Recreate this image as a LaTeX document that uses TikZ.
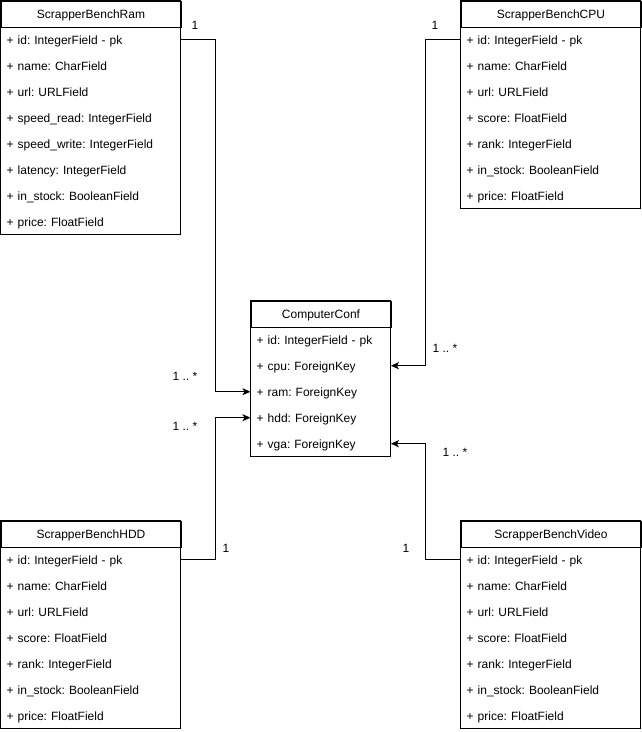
\documentclass[tikz,border=0pt]{standalone}
\usepackage{fontspec}
\setmainfont{Liberation Sans}
\usetikzlibrary{arrows.meta}

% One UML class: header row plus a list of attribute rows, 26 units each.
% #1 node prefix, #2 left x, #3 top y, #4 width, #5 class name, #6 attributes
\newcommand\umlclass[6]{%
  \pgfmathsetmacro\umltw{#4-12}%
  \node[hdrrow, minimum width=#4] (#1) at (#2,#3) {#5};
  \foreach \fld [count=\k] in {#6} {
    \node[fieldrow, text width=\umltw pt] (#1-\k) at (#2,#3+26*\k) {\fld};
    \xdef\umllast{\k}
  }
  \draw[boxline] (#1.north west) rectangle (#1-\umllast.south east);
}

\begin{document}
\frenchspacing
\begin{tikzpicture}[x=1pt,y=-1pt,
  txt/.style={font=\fontsize{12}{14}\selectfont\frenchspacing,
    text height=9pt, text depth=0pt},
  boxline/.style={line width=1pt, draw=black},
  hdrrow/.style={txt, draw=black, line width=1pt, anchor=north west,
    minimum height=26pt, inner sep=0pt},
  fieldrow/.style={txt, anchor=north west, minimum height=26pt, inner ysep=0pt,
    inner xsep=6pt, align=left},
  conn/.style={line width=1pt, draw=black, -{Stealth[length=8pt,width=7pt,inset=2pt]}},
  mult/.style={txt, inner sep=0pt}]

\useasboundingbox (0,0) rectangle (641,732);
\fill[white] (0,0) rectangle (641,732);

\umlclass{ram}{0.5}{0.5}{180}{ScrapperBenchRam}{
  + id: IntegerField - pk, + name: CharField, + url: URLField,
  + speed\_read: IntegerField, + speed\_write: IntegerField,
  + latency: IntegerField, + in\_stock: BooleanField, + price: FloatField}

\umlclass{cpu}{460.5}{0.5}{180}{ScrapperBenchCPU}{
  + id: IntegerField - pk, + name: CharField, + url: URLField,
  + score: FloatField, + rank: IntegerField,
  + in\_stock: BooleanField, + price: FloatField}

\umlclass{conf}{250.5}{300.5}{140}{ComputerConf}{
  + id: IntegerField - pk, + cpu: ForeignKey, + ram: ForeignKey,
  + hdd: ForeignKey, + vga: ForeignKey}

\umlclass{hdd}{0.5}{520.5}{180}{ScrapperBenchHDD}{
  + id: IntegerField - pk, + name: CharField, + url: URLField,
  + score: FloatField, + rank: IntegerField,
  + in\_stock: BooleanField, + price: FloatField}

\umlclass{vid}{460.5}{520.5}{180}{ScrapperBenchVideo}{
  + id: IntegerField - pk, + name: CharField, + url: URLField,
  + score: FloatField, + rank: IntegerField,
  + in\_stock: BooleanField, + price: FloatField}

% foreign key associations
\draw[conn] (ram-1.east) -- ++(35,0) |- (conf-3.west);
\draw[conn] (cpu-1.west) -- ++(-35,0) |- (conf-2.east);
\draw[conn] (hdd-1.east) -- ++(35,0) |- (conf-4.west);
\draw[conn] (vid-1.west) -- ++(-35,0) |- (conf-5.east);

% multiplicities
\node[mult] (m-ram-one)  at (195,25)  {1};
\node[mult] (m-ram-many) at (185,376) {1 .. *};
\node[mult] (m-cpu-one)  at (435,25)  {1};
\node[mult] (m-cpu-many) at (445,348) {1 .. *};
\node[mult] (m-hdd-one)  at (226,548) {1};
\node[mult] (m-hdd-many) at (185,426) {1 .. *};
\node[mult] (m-vid-one)  at (406,548) {1};
\node[mult] (m-vid-many) at (455,452) {1 .. *};
\end{tikzpicture}
\end{document}
